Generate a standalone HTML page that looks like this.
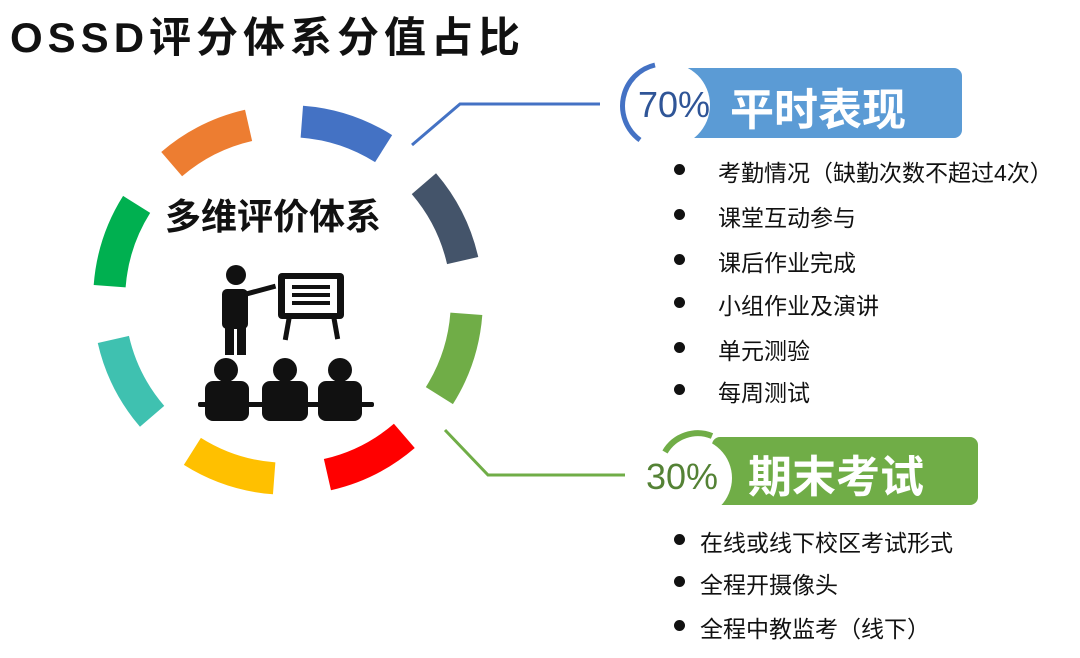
<!DOCTYPE html>
<html><head><meta charset="utf-8"><style>
body{margin:0;width:1080px;height:658px;background:#fff;overflow:hidden;position:relative;font-family:"Liberation Sans","Noto Sans CJK SC",sans-serif}
.t{position:absolute;white-space:nowrap}
.li{position:absolute;font-size:23px;color:#111;white-space:nowrap}
.li:before{content:"";position:absolute;left:-44px;top:10px;width:11px;height:11px;border-radius:50%;background:#111}
.b2:before{left:-26px}
</style></head><body>
<div class="t" style="left:10px;top:4px;font-size:42px;font-weight:bold;letter-spacing:5px;color:#111">OSSD评分体系分值占比</div>
<svg width="1080" height="658" style="position:absolute;left:0;top:0">
<g fill="none" stroke-width="32" transform="translate(288,300)">
<path d="M-80,-160 A179,179 0 0 1 4,-179" stroke="#ed7d31" transform="rotate(-14)"/>
<path d="M-80,-160 A179,179 0 0 1 4,-179" stroke="#4472c4" transform="rotate(31)"/>
<path d="M-80,-160 A179,179 0 0 1 4,-179" stroke="#44546a" transform="rotate(76)"/>
<path d="M-80,-160 A179,179 0 0 1 4,-179" stroke="#70ad47" transform="rotate(121)"/>
<path d="M-80,-160 A179,179 0 0 1 4,-179" stroke="#ff0000" transform="rotate(166)"/>
<path d="M-80,-160 A179,179 0 0 1 4,-179" stroke="#ffc000" transform="rotate(211)"/>
<path d="M-80,-160 A179,179 0 0 1 4,-179" stroke="#3fc1b0" transform="rotate(256)"/>
<path d="M-80,-160 A179,179 0 0 1 4,-179" stroke="#00b050" transform="rotate(301)"/>
</g>
<polyline points="412,145 460,104 600,104" fill="none" stroke="#4472c4" stroke-width="3"/>
<polyline points="445,430 488,475 625,475" fill="none" stroke="#70ad47" stroke-width="3"/>
<rect x="680" y="68" width="282" height="70" rx="8" fill="#5b9bd5"/>
<circle cx="668" cy="105" r="42" fill="#fff"/>
<path d="M655,65 A42,42 0 0 0 640,140" fill="none" stroke="#4472c4" stroke-width="5"/>
<rect x="712" y="437" width="266" height="68" rx="8" fill="#70ad47"/>
<circle cx="692" cy="478" r="40" fill="#fff"/>
<path d="M665,452 A38,38 0 0 1 712,436" fill="none" stroke="#70ad47" stroke-width="6"/>
<g fill="#111">
<circle cx="236" cy="275" r="10"/>
<rect x="222" y="289" width="26" height="40" rx="5"/>
<rect x="225" y="325" width="9" height="30"/><rect x="237" y="325" width="9" height="30"/>
<rect x="244" y="292" width="32" height="5" transform="rotate(-15 244 292)"/>
<rect x="278" y="273" width="66" height="46" rx="4"/>
<rect x="288" y="310" width="5" height="30" transform="rotate(10 288 310)"/>
<rect x="330" y="310" width="5" height="30" transform="rotate(-10 330 310)"/>
<circle cx="226" cy="370" r="12"/><circle cx="285" cy="370" r="12"/><circle cx="340" cy="370" r="12"/>
<rect x="205" y="381" width="44" height="40" rx="8"/><rect x="262" y="381" width="46" height="40" rx="8"/><rect x="318" y="381" width="44" height="40" rx="8"/>
<rect x="198" y="402" width="176" height="5" rx="2"/>
</g>
<rect x="285" y="279" width="52" height="34" fill="#fff"/>
<g fill="#111"><rect x="292" y="285" width="38" height="4"/><rect x="292" y="293" width="38" height="4"/><rect x="292" y="301" width="38" height="4"/></g>
</svg>
<div class="t" style="left:165px;top:188px;font-size:36px;font-weight:bold;color:#111">多维评价体系</div>
<div class="t" style="left:638px;top:84px;font-size:36px;color:#2f5597">70%</div>
<div class="t" style="left:730px;top:74px;font-size:44px;font-weight:bold;color:#fff">平时表现</div>
<div class="t" style="left:646px;top:456px;font-size:36px;color:#548235">30%</div>
<div class="t" style="left:748px;top:441px;font-size:44px;font-weight:bold;color:#fff">期末考试</div>
<div class="li" style="left:718px;top:154px">考勤情况（缺勤次数不超过4次）</div>
<div class="li" style="left:718px;top:199px">课堂互动参与</div>
<div class="li" style="left:718px;top:244px">课后作业完成</div>
<div class="li" style="left:718px;top:287px">小组作业及演讲</div>
<div class="li" style="left:718px;top:332px">单元测验</div>
<div class="li" style="left:718px;top:374px">每周测试</div>
<div class="li b2" style="left:700px;top:524px">在线或线下校区考试形式</div>
<div class="li b2" style="left:700px;top:566px">全程开摄像头</div>
<div class="li b2" style="left:700px;top:610px">全程中教监考（线下）</div>
</body></html>
